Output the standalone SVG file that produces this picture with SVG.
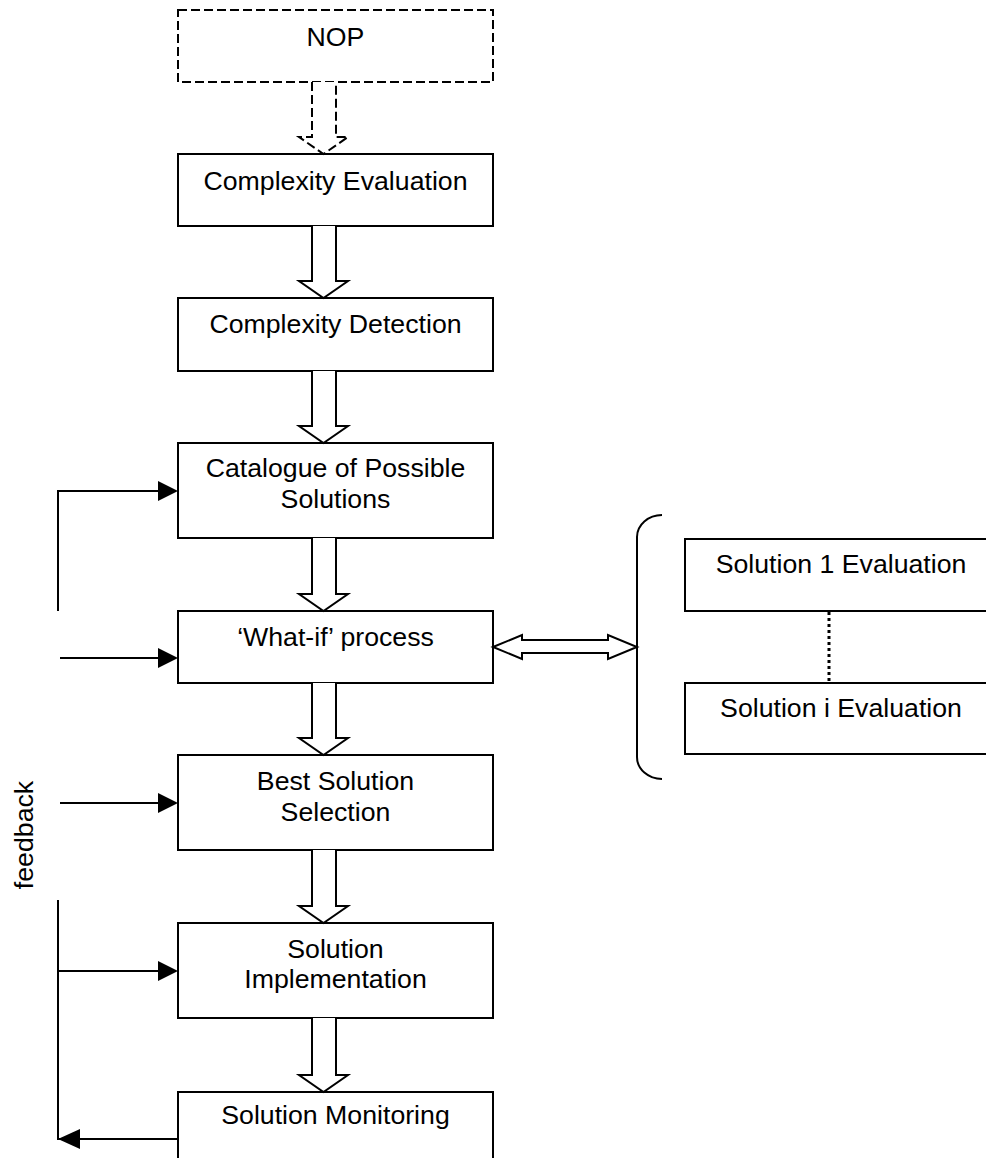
<svg xmlns="http://www.w3.org/2000/svg" width="986" height="1158" viewBox="0 0 986 1158">
<style>
.box{fill:#fff;stroke:#000;stroke-width:2}
.dash{fill:#fff;stroke:#000;stroke-width:2;stroke-dasharray:9 4}
.t{font-family:"Liberation Sans",Arial,sans-serif;font-size:26.7px;fill:#000;text-anchor:middle}
.blk{fill:#fff;stroke:#000;stroke-width:2;stroke-linejoin:miter}
.ln{fill:none;stroke:#000;stroke-width:2}
.head{fill:#000}
</style>
<rect width="986" height="1158" fill="#fff"/>
<g id="nop"><rect class="dash" x="178" y="10" width="315" height="72"/><text class="t" x="335.5" y="46">NOP</text></g>
<g id="complexity-evaluation"><rect class="box" x="178" y="154" width="315" height="72"/><text class="t" x="335.5" y="190">Complexity Evaluation</text></g>
<g id="complexity-detection"><rect class="box" x="178" y="298" width="315" height="73"/><text class="t" x="335.5" y="333">Complexity Detection</text></g>
<g id="catalogue"><rect class="box" x="178" y="443" width="315" height="95"/><text class="t" x="335.5" y="477">Catalogue of Possible</text><text class="t" x="335.5" y="508">Solutions</text></g>
<g id="what-if"><rect class="box" x="178" y="611" width="315" height="72"/><text class="t" x="335.5" y="646">‘What-if’ process</text></g>
<g id="best-solution"><rect class="box" x="178" y="755" width="315" height="95"/><text class="t" x="335.5" y="790">Best Solution</text><text class="t" x="335.5" y="821">Selection</text></g>
<g id="implementation"><rect class="box" x="178" y="923" width="315" height="95"/><text class="t" x="335.5" y="958">Solution</text><text class="t" x="335.5" y="988">Implementation</text></g>
<g id="monitoring"><rect class="box" x="178" y="1092" width="315" height="80"/><text class="t" x="335.5" y="1124">Solution Monitoring</text></g>
<g id="solution-1"><rect class="box" x="685" y="539" width="313" height="72"/><text class="t" x="841" y="573">Solution 1 Evaluation</text></g>
<g id="solution-i"><rect class="box" x="685" y="683" width="313" height="71"/><text class="t" x="841" y="717">Solution i Evaluation</text></g>
<g id="feedback-label"><text class="t" transform="translate(33,835) rotate(-90)">feedback</text></g>
<g id="connectors">
<path class="blk" style="stroke-dasharray:9 4" d="M312,82 L312,137 L299,137 L323.5,154 L348,137 L336,137 L336,82"/>
<path class="blk" d="M312,226 L312,281 L299,281 L323.5,298 L348,281 L336,281 L336,226"/>
<path class="blk" d="M312,371 L312,426 L299,426 L323.5,443 L348,426 L336,426 L336,371"/>
<path class="blk" d="M312,538 L312,594 L299,594 L323.5,611 L348,594 L336,594 L336,538"/>
<path class="blk" d="M312,683 L312,738 L299,738 L323.5,755 L348,738 L336,738 L336,683"/>
<path class="blk" d="M312,850 L312,906 L299,906 L323.5,923 L348,906 L336,906 L336,850"/>
<path class="blk" d="M312,1018 L312,1075 L299,1075 L323.5,1092 L348,1075 L336,1075 L336,1018"/>
<path class="blk" d="M493,647 L522,635 L522,640 L608,640 L608,635 L637,647 L608,659 L608,653 L522,653 L522,659 Z"/>
<path class="ln" d="M662,515 A25,22 0 0 0 637,537 L637,757 A25,22 0 0 0 662,779"/>
<line x1="829" y1="612" x2="829" y2="683" stroke="#000" stroke-width="3" stroke-dasharray="3 3"/>
<path class="ln" d="M58,611 L58,491 L160,491"/>
<path class="head" d="M178,491 L158,481 L158,501 Z"/>
<path class="ln" d="M60,658 L160,658"/>
<path class="head" d="M178,658 L158,648 L158,668 Z"/>
<path class="ln" d="M60,803 L160,803"/>
<path class="head" d="M178,803 L158,793 L158,813 Z"/>
<path class="ln" d="M58,900 L58,1139 L178,1139"/>
<path class="ln" d="M58,971 L160,971"/>
<path class="head" d="M178,971 L158,961 L158,981 Z"/>
<path class="head" d="M58,1139 L80,1129 L80,1149 Z"/>
</g>
</svg>
